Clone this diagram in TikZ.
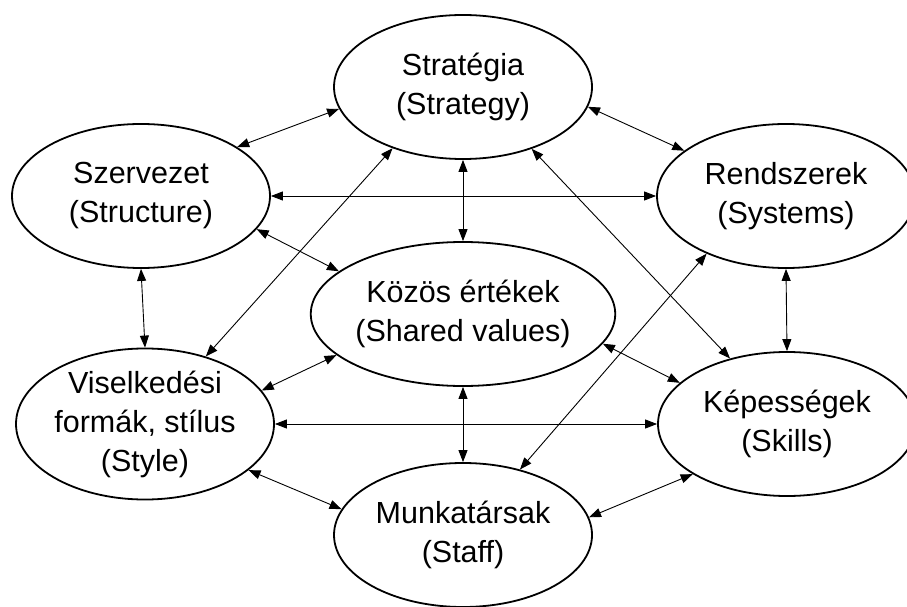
\documentclass[tikz,border=0pt]{standalone}
\usepackage{fontspec}
\setmainfont{Liberation Sans}
\usetikzlibrary{arrows.meta,shapes.geometric}
\begin{document}
\begin{tikzpicture}[x=1pt,y=1pt,
  sbox/.style={ellipse,draw,line width=1.8pt,minimum width=258pt,minimum height=144pt,inner sep=0pt,align=center,font=\fontsize{30.5}{39}\selectfont},
  link/.style={line width=0.9pt,{Triangle[length=12pt,width=9pt]}-{Triangle[length=12pt,width=9pt]}}]
\useasboundingbox (0,0) rectangle (907,606);
\node[sbox] (strat) at (463,519) {Stratégia\\(Strategy)};
\node[sbox] (szerv) at (141,410) {Szervezet\\(Structure)};
\node[sbox] (rend) at (786,410) {Rendszerek\\(Systems)};
\node[sbox] (kozos) at (463,292) {Közös értékek\\(Shared values)};
\node[sbox] (visel) at (145,182) {Viselkedési\\formák, stílus\\(Style)};
\node[sbox] (kepes) at (787,182) {Képességek\\(Skills)};
\node[sbox] (munka) at (463,71) {Munkatársak\\(Staff)};
\draw[link] (strat.190) -- (szerv.27);
\draw[link] (strat.-9) -- (rend.156);
\draw[link] (szerv.east) -- (rend.west);
\draw[link] (strat.south) -- (kozos.north);
\draw[link] (szerv.-16) -- (kozos.161);
\draw[link] (strat.221) -- (visel.48);
\draw[link] (strat.-42) -- (kepes.131);
\draw[link] (rend.south) -- (kepes.north);
\draw[link] (rend.216) -- (munka.49);
\draw[link] (szerv.south) -- (visel.north);
\draw[link] (visel.16) -- (kozos.198);
\draw[link] (visel.east) -- (kepes.west);
\draw[link] (kozos.-12) -- (kepes.159);
\draw[link] (kozos.south) -- (munka.north);
\draw[link] (visel.-24) -- (munka.168);
\draw[link] (kepes.208) -- (munka.8);
\end{tikzpicture}
\end{document}
